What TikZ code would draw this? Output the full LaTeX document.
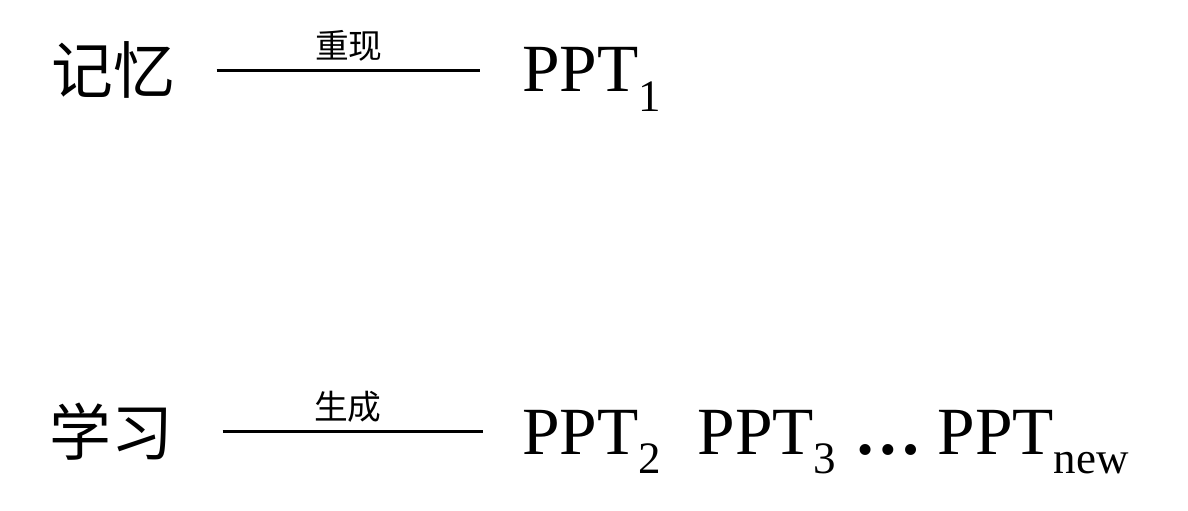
\documentclass[tikz,border=0pt]{standalone}
\usepackage{fontspec}
\setmainfont{Liberation Serif}
\newfontfamily\cjk{Noto Sans CJK SC}
\usepackage{tikz}
\usetikzlibrary{positioning}

\newcommand{\pptsub}[1]{\raisebox{-14pt}{\fontsize{32}{32}\selectfont #1}}

\tikzset{
  zone/.style={font=\cjk\fontsize{44}{44}\selectfont, inner sep=0pt},
  ppt/.style={font=\fontsize{48}{48}\selectfont, inner sep=0pt, anchor=base west},
  link/.style={line width=2pt, shorten <=1.02cm, shorten >=1.05cm},
  tag/.style={font=\cjk\fontsize{24}{24}\selectfont, inner sep=0pt, above=0.2cm}
}

\begin{document}
\begin{tikzpicture}
    \useasboundingbox (0,0) rectangle (29.7,12.75);

    % memory row
    \node[zone] (mem) at (2.84,10.99) {记忆};
    \node[ppt] (ppt1) at (13.05,10.45) {PPT\pptsub{1}};
    \draw[link] (mem.east) -- (mem.east -| ppt1.west) node[tag, midway] {重现};

    % learning row
    \node[zone] (learn) at (2.79,1.96) {学习};
    \node[ppt] (ppt2) at (13.05,1.4) {PPT\pptsub{2}};
    \node[ppt] (ppt3) at (17.43,1.4) {PPT\pptsub{3}};
    \node[ppt] (dots) at (21.36,1.4) {\bfseries …};
    \node[ppt] (pptnew) at (23.43,1.4) {PPT\pptsub{new}};
    \draw[link, shorten <=1.22cm, shorten >=0.98cm] (learn.east) -- (learn.east -| ppt2.west) node[tag, midway] {生成};
\end{tikzpicture}
\end{document}
